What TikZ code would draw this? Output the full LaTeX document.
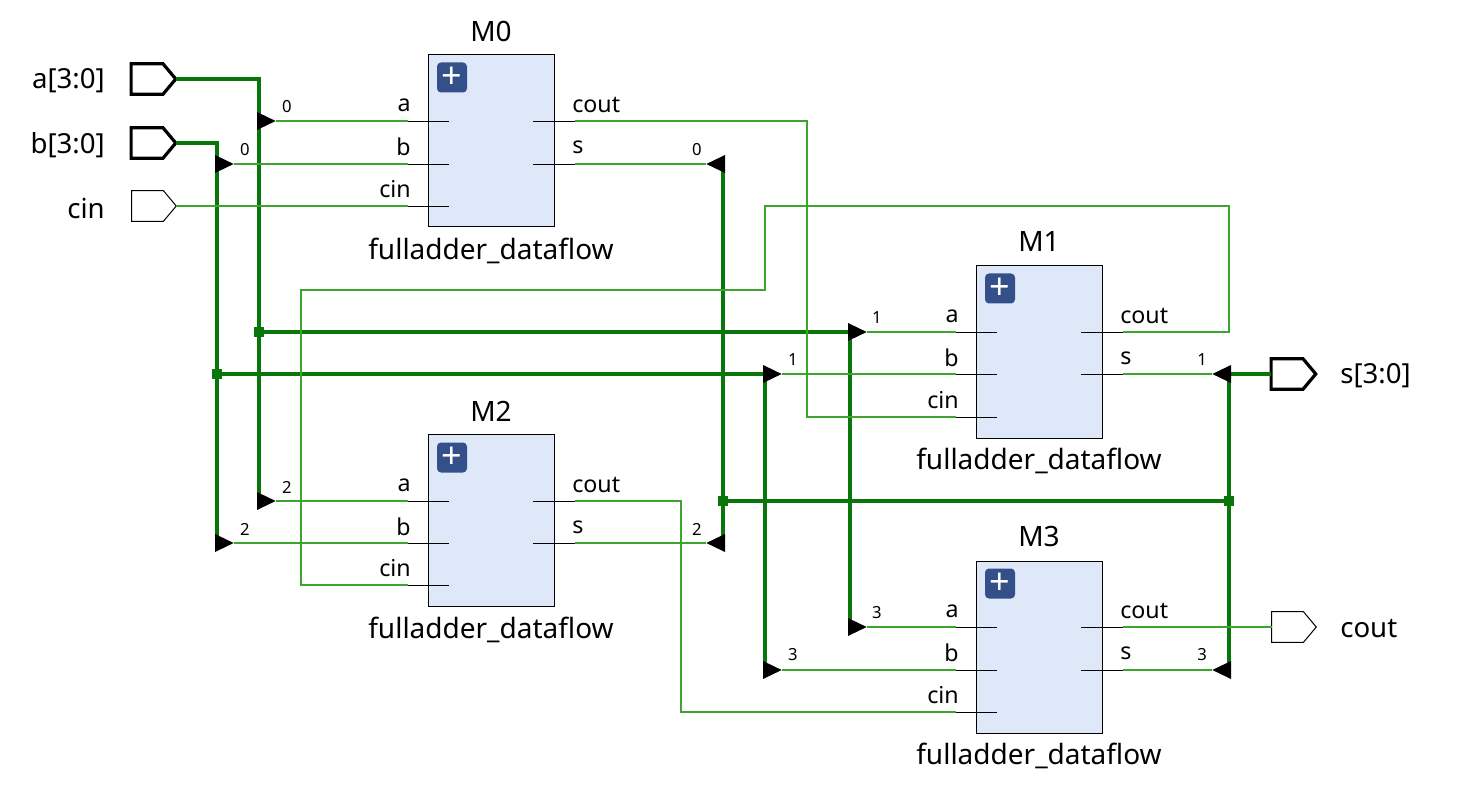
\documentclass[tikz,border=0pt]{standalone}
\usepackage{fontspec}
\setmainfont{Noto Sans}
\usetikzlibrary{shapes.geometric,shapes.symbols}
\definecolor{busgreen}{RGB}{8,118,8}
\definecolor{netgreen}{RGB}{60,165,45}
\definecolor{blockfill}{RGB}{222,232,248}
\definecolor{plusblue}{RGB}{52,80,138}
\tikzset{
  bus/.style={draw=busgreen,line width=2.7pt},
  net/.style={draw=netgreen,line width=0.8pt},
  stub/.style={draw=black,line width=0.7pt},
  block/.style={draw=black,line width=0.75pt,fill=blockfill,inner sep=0pt,minimum width=94pt,minimum height=129pt},
  plusbox/.style={fill=plusblue,rounded corners=3pt,inner sep=0pt,minimum width=22.5pt,minimum height=22.5pt,text=white,font=\bfseries\fontsize{27}{27}\selectfont},
  title/.style={font=\fontsize{21}{24}\selectfont},
  pinname/.style={font=\fontsize{17.4}{20}\selectfont,inner sep=0pt},
  bitname/.style={font=\fontsize{12.5}{14}\selectfont,inner sep=0pt},
  portname/.style={font=\fontsize{20.7}{24}\selectfont,inner sep=0pt},
  port/.style={signal,signal to=east,signal from=nowhere,signal pointer angle=100,draw=black,fill=white,inner sep=0pt,outer sep=0pt,minimum width=33.5pt,minimum height=23pt},
  busport/.style={port,line width=2.4pt},
  netport/.style={port,line width=0.75pt},
  ripr/.style={isosceles triangle,isosceles triangle apex angle=52,isosceles triangle stretches,shape border rotate=0,fill=black,inner sep=0pt,outer sep=0pt,minimum width=13.5pt,minimum height=14pt,anchor=lower side},
  ripl/.style={ripr,shape border rotate=180},
  joint/.style={fill=busgreen,inner sep=0pt,minimum size=7pt},
}
\begin{document}
\begin{tikzpicture}[x=0.75pt,y=0.75pt,yscale=-1,xscale=1]
\useasboundingbox (0,0) rectangle (1458,787);

% Ports
\node[busport] (pa) at (147,79) {};
\node[busport] (pb) at (147,143) {};
\node[netport] (pcin) at (147.5,206) {};
\node[busport] (ps) at (1287,374) {};
\node[netport] (pcout) at (1287.5,627) {};

% Port names
\node[portname,anchor=east] (na) at (105,81) {a[3:0]};
\node[portname,anchor=east] (nb) at (105,145) {b[3:0]};
\node[portname,anchor=east] (ncin) at (105,208) {cin};
\node[portname,anchor=west] (ns) at (1340,376) {s[3:0]};
\node[portname,anchor=west] (ncout) at (1340,629) {cout};

% Blocks
\node[block] (M0) at (491.5,141) {};
\node[block] (M1) at (1039.5,352) {};
\node[block] (M2) at (491.5,520.5) {};
\node[block] (M3) at (1039.5,647) {};

% Bus taps
\coordinate (ta0) at (259,121);
\coordinate (ta1) at (850,332);
\coordinate (ta2) at (259,501);
\coordinate (ta3) at (850,627);
\coordinate (tb0) at (217,164);
\coordinate (tb1) at (765,374);
\coordinate (tb2) at (217,543);
\coordinate (tb3) at (765,670);
\coordinate (ts0) at (723,164);
\coordinate (ts1) at (1229,374);
\coordinate (ts2) at (723,543);
\coordinate (ts3) at (1229,670);

% Bus joints
\node[joint] (ja) at (259,332) {};
\node[joint] (jb) at (217,374) {};
\node[joint] (jsl) at (723,501) {};
\node[joint] (jsr) at (1229,501) {};

% Buses
\draw[bus] (pa.east) -| (ta2);
\draw[bus] (pb.east) -| (tb2);
\draw[bus] (ja) -- (ta1) -- (ta3);
\draw[bus] (jb) -- (tb1) -- (tb3);
\draw[bus] (ts0) -- (ts2);
\draw[bus] (jsl) -- (jsr);
\draw[bus] (ps.west) -- (ts1) -- (ts3);

% Bus rippers
\node[ripr,xshift=-1.5pt] (ra0) at (ta0) {};
\node[ripr,xshift=-1.5pt] (ra1) at (ta1) {};
\node[ripr,xshift=-1.5pt] (ra2) at (ta2) {};
\node[ripr,xshift=-1.5pt] (ra3) at (ta3) {};
\node[ripr,xshift=-1.5pt] (rb0) at (tb0) {};
\node[ripr,xshift=-1.5pt] (rb1) at (tb1) {};
\node[ripr,xshift=-1.5pt] (rb2) at (tb2) {};
\node[ripr,xshift=-1.5pt] (rb3) at (tb3) {};
\node[ripl,xshift=1.5pt] (rs0) at (ts0) {};
\node[ripl,xshift=1.5pt] (rs1) at (ts1) {};
\node[ripl,xshift=1.5pt] (rs2) at (ts2) {};
\node[ripl,xshift=1.5pt] (rs3) at (ts3) {};

% Bit numbers
\node[bitname] (ba0) at (287,107) {0};
\node[bitname] (bb0) at (245,150) {0};
\node[bitname] (bs0) at (697,150) {0};
\node[bitname] (ba1) at (877,318) {1};
\node[bitname] (bb1) at (793,360) {1};
\node[bitname] (bs1) at (1202,360) {1};
\node[bitname] (ba2) at (287,487) {2};
\node[bitname] (bb2) at (245,529) {2};
\node[bitname] (bs2) at (697,529) {2};
\node[bitname] (ba3) at (877,613) {3};
\node[bitname] (bb3) at (793,655) {3};
\node[bitname] (bs3) at (1202,655) {3};

% Pins M0
\coordinate (M0a) at (408,121);
\coordinate (M0ai) at (449,121);
\coordinate (M0b) at (408,164);
\coordinate (M0bi) at (449,164);
\coordinate (M0cin) at (408,206);
\coordinate (M0cini) at (449,206);
\coordinate (M0cout) at (575,121);
\coordinate (M0couti) at (533,121);
\coordinate (M0s) at (575,164);
\coordinate (M0si) at (533,164);
% Pins M1
\coordinate (M1a) at (956,332);
\coordinate (M1ai) at (997,332);
\coordinate (M1b) at (956,374);
\coordinate (M1bi) at (997,374);
\coordinate (M1cin) at (956,417);
\coordinate (M1cini) at (997,417);
\coordinate (M1cout) at (1123,332);
\coordinate (M1couti) at (1081,332);
\coordinate (M1s) at (1123,374);
\coordinate (M1si) at (1081,374);
% Pins M2
\coordinate (M2a) at (408,501);
\coordinate (M2ai) at (449,501);
\coordinate (M2b) at (408,543);
\coordinate (M2bi) at (449,543);
\coordinate (M2cin) at (408,585);
\coordinate (M2cini) at (449,585);
\coordinate (M2cout) at (575,501);
\coordinate (M2couti) at (533,501);
\coordinate (M2s) at (575,543);
\coordinate (M2si) at (533,543);
% Pins M3
\coordinate (M3a) at (956,627);
\coordinate (M3ai) at (997,627);
\coordinate (M3b) at (956,670);
\coordinate (M3bi) at (997,670);
\coordinate (M3cin) at (956,712);
\coordinate (M3cini) at (997,712);
\coordinate (M3cout) at (1123,627);
\coordinate (M3couti) at (1081,627);
\coordinate (M3s) at (1123,670);
\coordinate (M3si) at (1081,670);

% Nets
\draw[net] (ra0.apex) -- (M0a);
\draw[net] (rb0.apex) -- (M0b);
\draw[net] (pcin.east) -- (M0cin);
\draw[net] (M0s) -- (rs0.apex);
\draw[net] (ra1.apex) -- (M1a);
\draw[net] (rb1.apex) -- (M1b);
\draw[net] (M1s) -- (rs1.apex);
\draw[net] (ra2.apex) -- (M2a);
\draw[net] (rb2.apex) -- (M2b);
\draw[net] (M2s) -- (rs2.apex);
\draw[net] (ra3.apex) -- (M3a);
\draw[net] (rb3.apex) -- (M3b);
\draw[net] (M3s) -- (rs3.apex);
\draw[net] (M3cout) -- (pcout.west);
\draw[net] (M0cout) -| (807,417) -- (M1cin);
\draw[net] (M1cout) -| (1229,206) -| (765,290) -| (301,585) -- (M2cin);
\draw[net] (M2cout) -| (681,712) -- (M3cin);

% Pin stubs
\draw[stub] (M0a) -- (M0ai);
\draw[stub] (M0b) -- (M0bi);
\draw[stub] (M0cin) -- (M0cini);
\draw[stub] (M0cout) -- (M0couti);
\draw[stub] (M0s) -- (M0si);
\draw[stub] (M1a) -- (M1ai);
\draw[stub] (M1b) -- (M1bi);
\draw[stub] (M1cin) -- (M1cini);
\draw[stub] (M1cout) -- (M1couti);
\draw[stub] (M1s) -- (M1si);
\draw[stub] (M2a) -- (M2ai);
\draw[stub] (M2b) -- (M2bi);
\draw[stub] (M2cin) -- (M2cini);
\draw[stub] (M2cout) -- (M2couti);
\draw[stub] (M2s) -- (M2si);
\draw[stub] (M3a) -- (M3ai);
\draw[stub] (M3b) -- (M3bi);
\draw[stub] (M3cin) -- (M3cini);
\draw[stub] (M3cout) -- (M3couti);
\draw[stub] (M3s) -- (M3si);

% Plus icons
\node[plusbox] (plus0) at (452,77.5) {\raisebox{-1.5pt}{+}};
\node[plusbox] (plus1) at (1000,288.5) {\raisebox{-1.5pt}{+}};
\node[plusbox] (plus2) at (452,457.5) {\raisebox{-1.5pt}{+}};
\node[plusbox] (plus3) at (1000,583.5) {\raisebox{-1.5pt}{+}};

% Text Node
\node[title] (tM0) at (491,31) {M0};
\node[title] (tM1) at (1039,242) {M1};
\node[title] (tM2) at (491,411) {M2};
\node[title] (tM3) at (1039,537) {M3};
\node[title] (cM0) at (491,250.5) {fulladder\_dataflow};
\node[title] (cM1) at (1039,460.5) {fulladder\_dataflow};
\node[title] (cM2) at (491,629.5) {fulladder\_dataflow};
\node[title] (cM3) at (1039,755.5) {fulladder\_dataflow};

% Pin names
\node[pinname,anchor=east] (lM0a) at (411,105) {a};
\node[pinname,anchor=east] (lM0b) at (411,147) {b};
\node[pinname,anchor=east] (lM0cin) at (411,189) {cin};
\node[pinname,anchor=west] (lM0cout) at (572,105) {cout};
\node[pinname,anchor=west] (lM0s) at (572,147) {s};
\node[pinname,anchor=east] (lM1a) at (959,316) {a};
\node[pinname,anchor=east] (lM1b) at (959,358) {b};
\node[pinname,anchor=east] (lM1cin) at (959,400) {cin};
\node[pinname,anchor=west] (lM1cout) at (1120,316) {cout};
\node[pinname,anchor=west] (lM1s) at (1120,358) {s};
\node[pinname,anchor=east] (lM2a) at (411,485) {a};
\node[pinname,anchor=east] (lM2b) at (411,527) {b};
\node[pinname,anchor=east] (lM2cin) at (411,568) {cin};
\node[pinname,anchor=west] (lM2cout) at (572,485) {cout};
\node[pinname,anchor=west] (lM2s) at (572,527) {s};
\node[pinname,anchor=east] (lM3a) at (959,611) {a};
\node[pinname,anchor=east] (lM3b) at (959,653) {b};
\node[pinname,anchor=east] (lM3cin) at (959,695) {cin};
\node[pinname,anchor=west] (lM3cout) at (1120,611) {cout};
\node[pinname,anchor=west] (lM3s) at (1120,653) {s};

\end{tikzpicture}
\end{document}
